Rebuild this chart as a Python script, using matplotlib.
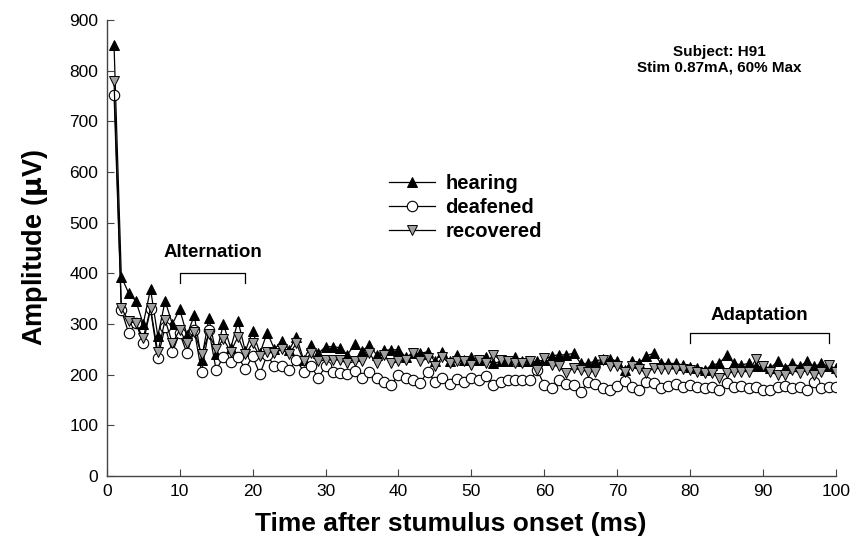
import numpy as np
import matplotlib
matplotlib.use("Agg")
import matplotlib.pyplot as plt

plt.rcParams['font.family'] = ['Liberation Sans', 'DejaVu Sans']

# time after onset (ms)
time_ms = np.arange(1, 101)

hearing = [850, 393, 361, 345, 300, 369, 276, 345, 300, 329,
           278, 317, 229, 311, 241, 300, 252, 306, 246, 286,
           242, 283, 250, 267, 248, 275, 229, 258, 242, 255,
           255, 253, 239, 260, 246, 258, 239, 248, 249, 249,
           235, 242, 242, 245, 226, 245, 226, 239, 229, 234,
           229, 234, 222, 226, 226, 234, 226, 226, 226, 229,
           237, 239, 239, 242, 222, 222, 227, 230, 230, 227,
           209, 226, 222, 237, 242, 222, 222, 222, 219, 215,
           213, 209, 219, 222, 239, 222, 219, 222, 216, 216,
           213, 226, 213, 222, 216, 226, 216, 222, 216, 213]

deafened = [753, 328, 282, 302, 262, 329, 233, 294, 244, 282,
            242, 288, 205, 288, 209, 235, 225, 235, 211, 236,
            201, 239, 216, 216, 210, 229, 206, 216, 194, 216,
            206, 204, 201, 208, 193, 206, 193, 186, 180, 199,
            193, 189, 184, 206, 186, 193, 182, 191, 186, 193,
            189, 197, 180, 186, 189, 189, 189, 189, 209, 180,
            173, 189, 182, 180, 166, 186, 182, 173, 170, 178,
            187, 176, 170, 186, 184, 173, 178, 181, 176, 180,
            176, 173, 176, 170, 183, 176, 178, 173, 176, 170,
            170, 176, 178, 173, 176, 170, 186, 173, 176, 176]

recovered = [780, 331, 306, 301, 272, 331, 244, 308, 262, 288,
             262, 285, 240, 280, 250, 270, 245, 275, 240, 262,
             236, 245, 242, 250, 240, 262, 226, 242, 226, 229,
             229, 229, 222, 226, 226, 242, 222, 239, 222, 226,
             229, 242, 226, 232, 216, 234, 222, 226, 226, 219,
             229, 222, 239, 229, 226, 222, 222, 226, 210, 232,
             219, 216, 203, 213, 209, 206, 206, 229, 216, 216,
             206, 216, 211, 203, 213, 211, 212, 211, 211, 209,
             206, 203, 203, 194, 203, 205, 206, 206, 230, 216,
             206, 199, 199, 209, 203, 209, 199, 206, 219, 205]

fig = plt.figure(figsize=(8.54, 5.42), dpi=100)
ax = fig.add_axes([0.125, 0.122, 0.854, 0.841])

ax.plot(time_ms, hearing, color='black', lw=0.9, marker='^', ms=7,
        mfc='black', mec='black', mew=0.7, label='hearing')
ax.plot(time_ms, deafened, color='black', lw=0.9, marker='o', ms=7.5,
        mfc='white', mec='black', mew=0.8, label='deafened')
ax.plot(time_ms, recovered, color='black', lw=0.9, marker='v', ms=7.5,
        mfc='#a0a0a0', mec='black', mew=0.7, label='recovered')

ax.set_xlim(0, 100)
ax.set_ylim(0, 900)
ax.set_xticks(np.arange(0, 101, 10))
ax.set_yticks(np.arange(0, 901, 100))
ax.spines['top'].set_visible(False)
ax.spines['right'].set_visible(False)
for s in ['left', 'bottom']:
    ax.spines[s].set_color('#444444')
    ax.spines[s].set_linewidth(1.0)
ax.tick_params(direction='in', length=5, width=0.8, color='#444444',
               labelsize=12.5, pad=6)

ax.set_xlabel('Time after stumulus onset (ms)', fontsize=19, fontweight='bold',
              labelpad=6)
ax.xaxis.set_label_coords(0.472, -0.08)
ax.set_ylabel('Amplitude ($\\mathbf{\\mu}$V)', fontsize=19.5, fontweight='bold',
              labelpad=14)

leg = ax.legend(loc='upper left', bbox_to_anchor=(0.373, 0.685), frameon=False,
                prop={'weight': 'bold', 'size': 14.5}, handlelength=2.3,
                handletextpad=0.5, labelspacing=0.25, borderpad=0)

ax.text(0.8395, 0.945, 'Subject: H91\nStim 0.87mA, 60% Max', transform=ax.transAxes,
        ha='center', va='top', fontsize=11, fontweight='bold', linespacing=1.1)

# brackets
ax.text(14.5, 432, 'Alternation', ha='center', va='baseline', fontsize=13.5,
        fontweight='bold')
ax.plot([10, 10, 19, 19], [380, 400, 400, 380], color='black', lw=0.9)
ax.text(89.5, 308, 'Adaptation', ha='center', va='baseline', fontsize=13.5,
        fontweight='bold')
ax.plot([80, 80, 99, 99], [262, 282, 282, 262], color='black', lw=0.9)

fig.savefig('out.png', dpi=100)
